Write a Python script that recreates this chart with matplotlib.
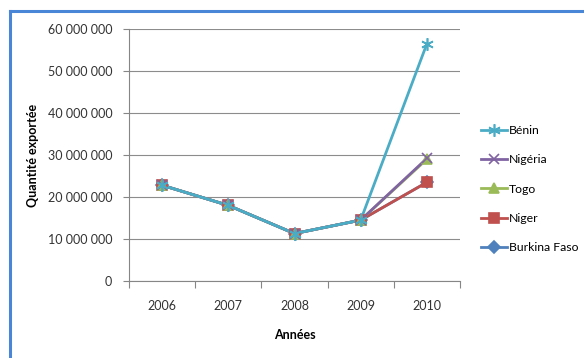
import numpy as np
import matplotlib.pyplot as plt
from matplotlib.lines import Line2D
from matplotlib.ticker import FuncFormatter

plt.rcParams['font.family'] = ['Lato', 'DejaVu Sans']

years = ['2006', '2007', '2008', '2009', '2010']
benin = [22.8e6, 18.0e6, 11.3e6, 14.5e6, 56.5e6]
nigeria = [22.8e6, 18.0e6, 11.3e6, 14.5e6, 29.2e6]
togo = [22.8e6, 18.0e6, 11.3e6, 14.5e6, 29.0e6]
niger = [22.8e6, 18.0e6, 11.3e6, 14.5e6, 23.5e6]
burkina = [22.8e6, 18.0e6, 11.3e6, 14.5e6, 23.5e6]

series = [
    ('Bénin', benin, '#4BACC6', (6, 2, 0), 9),
    ('Nigéria', nigeria, '#8064A2', 'x', 7),
    ('Togo', togo, '#9BBB59', '^', 7),
    ('Niger', niger, '#C0504D', 's', 7),
    ('Burkina Faso', burkina, '#4F81BD', 'D', 6),
]

fig = plt.figure(figsize=(5.84, 3.58), dpi=100)
ax = fig.add_axes([129 / 584, 1 - 281 / 358, 331 / 584, 252 / 358])

x = np.arange(len(years))
handles = []
for i, (name, vals, col, mk, ms) in enumerate(series):
    z = 10 - i
    ax.plot(x, vals, color=col, lw=2.0, zorder=z, solid_capstyle='round')
    ax.plot(x, vals, ls='none', marker=mk, ms=ms, color=col, mec=col,
            mew=1.2, zorder=z + 10 if name != 'Burkina Faso' else 1)
    handles.append(Line2D([], [], color=col, lw=2.0, marker=mk, ms=ms,
                          mec=col, mew=1.2))

ax.set_xlim(-0.5, 4.5)
ax.set_ylim(0, 60e6)
ax.set_yticks(np.arange(0, 60e6 + 1, 10e6))
ax.yaxis.set_major_formatter(FuncFormatter(lambda v, p: f'{int(v):,}'.replace(',', ' ')))
ax.set_xticks(np.arange(-0.5, 5, 1))
ax.set_xticklabels([])
ax.set_xticks(x, minor=True)
ax.set_xticklabels(years, minor=True)
ax.tick_params(axis='x', which='major', length=5, color='#868686', direction='out')
ax.tick_params(axis='x', which='minor', length=0, pad=14, labelsize=9, labelcolor='#333333')
ax.tick_params(axis='y', length=4, color='#868686', pad=8, labelsize=9, labelcolor='#333333')
ax.grid(axis='y', color='#8c8c8c', lw=0.8)
ax.set_axisbelow(True)
for s in ['top', 'right']:
    ax.spines[s].set_visible(False)
for s in ['left', 'bottom']:
    ax.spines[s].set_color('#868686')
    ax.spines[s].set_linewidth(0.8)

ax.set_ylabel('Quantité exportée', fontsize=9, fontweight='bold', labelpad=6)
ax.set_xlabel('Années', fontsize=9, fontweight='bold', labelpad=12)

fig.legend(handles, [s[0] for s in series], loc='upper left',
           bbox_to_anchor=(481 / 584, 1 - 125 / 358), frameon=False,
           borderpad=0, borderaxespad=0,
           fontsize=8.8, handlelength=2.15, handletextpad=0.15, labelspacing=1.5)

fig.add_artist(Line2D([10 / 584, 10 / 584], [0, 1 - 11 / 358], color='#4A86D8', lw=2.2))
fig.add_artist(Line2D([10 / 584, 1], [1 - 11 / 358, 1 - 11 / 358], color='#4A86D8', lw=2.2))

fig.savefig('out.png', dpi=100)
